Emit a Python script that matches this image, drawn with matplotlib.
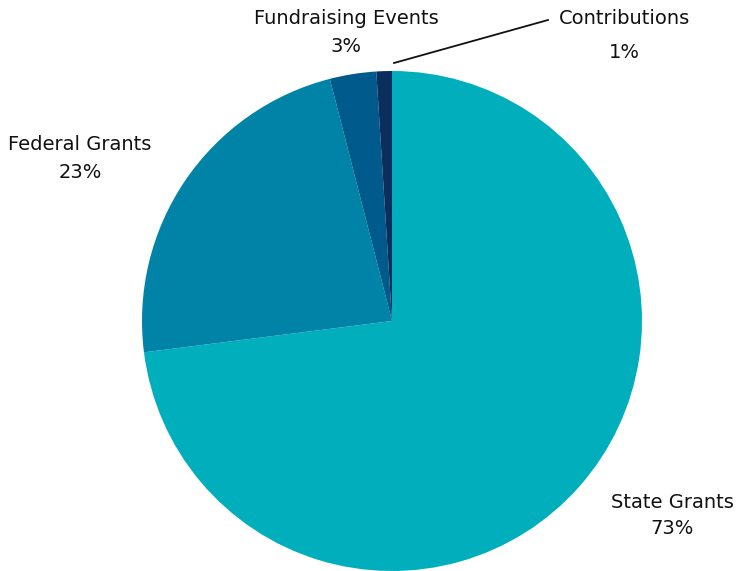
import matplotlib
matplotlib.use('Agg')
import matplotlib.pyplot as plt

# Revenue sources (percent of total)
categories = ['State Grants', 'Federal Grants', 'Fundraising Events', 'Contributions']
values = [73, 23, 3, 1]
pct_labels = ['73%', '23%', '3%', '1%']
colors = ['#00AEBC', '#0083A7', '#005A8B', '#0B2E5F']

plt.rcParams['font.family'] = ['DejaVu Sans']

fig = plt.figure(figsize=(7.43, 5.71), dpi=100)
ax = fig.add_axes([0, 0, 1, 1])

# pie starts at the top and goes clockwise
ax.pie(values, colors=colors, startangle=90, counterclock=False,
       radius=1.0, center=(0, 0), wedgeprops={'linewidth': 0})

# label positions (name, percent) in axis units
label_pos = {
    'State Grants': (1.12, -0.724, -0.832),
    'Federal Grants': (-1.248, 0.704, 0.596),
    'Fundraising Events': (-0.184, 1.208, 1.100),
    'Contributions': (0.928, 1.208, 1.076),
}
for name, pct in zip(categories, pct_labels):
    x, y1, y2 = label_pos[name]
    ax.text(x, y1, name, ha='center', va='center', fontsize=14,
            color='#111111')
    ax.text(x, y2, pct, ha='center', va='center', fontsize=14,
            color='#111111')

# leader line for the small slice
ax.plot([0.008, 0.624], [1.032, 1.204], color='#111111', linewidth=1.3)

ax.set_xlim(-1.568, 1.404)
ax.set_ylim(-1.0, 1.284)
ax.set_aspect('equal')
ax.axis('off')

fig.savefig('out.png', dpi=100)
